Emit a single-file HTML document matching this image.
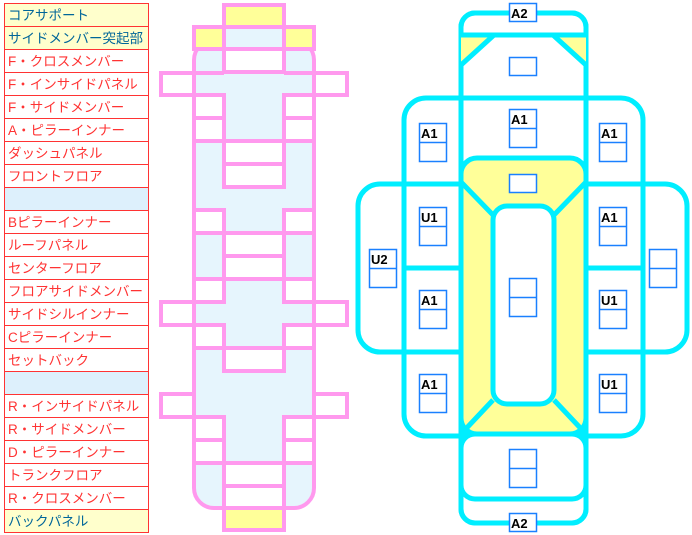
<!DOCTYPE html>
<html><head><meta charset="utf-8"><style>
html,body{margin:0;padding:0;background:#fff;width:692px;height:535px;overflow:hidden}
text{font-family:"Liberation Sans","Noto Sans CJK JP",sans-serif}
</style></head><body>
<svg width="692" height="535" viewBox="0 0 692 535" xmlns="http://www.w3.org/2000/svg">
<g font-size="13.5">
<rect x="4.5" y="3.5" width="144" height="529" fill="#fff" stroke="#ff3333"/>
<rect x="5" y="4" width="143" height="45" fill="#ffffcc"/>
<rect x="5" y="188" width="143" height="22" fill="#ddf0fc"/>
<rect x="5" y="372" width="143" height="22" fill="#ddf0fc"/>
<rect x="5" y="510" width="143" height="22" fill="#ffffcc"/>
<g stroke="#ff3333">
<line x1="4" y1="26.5" x2="149" y2="26.5"/><line x1="4" y1="49.5" x2="149" y2="49.5"/><line x1="4" y1="72.5" x2="149" y2="72.5"/><line x1="4" y1="95.5" x2="149" y2="95.5"/><line x1="4" y1="118.5" x2="149" y2="118.5"/><line x1="4" y1="141.5" x2="149" y2="141.5"/><line x1="4" y1="164.5" x2="149" y2="164.5"/><line x1="4" y1="187.5" x2="149" y2="187.5"/><line x1="4" y1="210.5" x2="149" y2="210.5"/><line x1="4" y1="233.5" x2="149" y2="233.5"/><line x1="4" y1="256.5" x2="149" y2="256.5"/><line x1="4" y1="279.5" x2="149" y2="279.5"/><line x1="4" y1="302.5" x2="149" y2="302.5"/><line x1="4" y1="325.5" x2="149" y2="325.5"/><line x1="4" y1="348.5" x2="149" y2="348.5"/><line x1="4" y1="371.5" x2="149" y2="371.5"/><line x1="4" y1="394.5" x2="149" y2="394.5"/><line x1="4" y1="417.5" x2="149" y2="417.5"/><line x1="4" y1="440.5" x2="149" y2="440.5"/><line x1="4" y1="463.5" x2="149" y2="463.5"/><line x1="4" y1="486.5" x2="149" y2="486.5"/><line x1="4" y1="509.5" x2="149" y2="509.5"/>
</g>
<g fill="#006699">
<text x="8" y="20">コアサポート</text>
<text x="8" y="43">サイドメンバー突起部</text>
<text x="8" y="526">バックパネル</text>
</g>
<g fill="#ff3333">
<text x="8" y="66">F・クロスメンバー</text>
<text x="8" y="89">F・インサイドパネル</text>
<text x="8" y="112">F・サイドメンバー</text>
<text x="8" y="135">A・ピラーインナー</text>
<text x="8" y="158">ダッシュパネル</text>
<text x="8" y="181">フロントフロア</text>
<text x="8" y="227">Bピラーインナー</text>
<text x="8" y="250">ルーフパネル</text>
<text x="8" y="273">センターフロア</text>
<text x="8" y="296">フロアサイドメンバー</text>
<text x="8" y="319">サイドシルインナー</text>
<text x="8" y="342">Cピラーインナー</text>
<text x="8" y="365">セットバック</text>
<text x="8" y="411">R・インサイドパネル</text>
<text x="8" y="434">R・サイドメンバー</text>
<text x="8" y="457">D・ピラーインナー</text>
<text x="8" y="480">トランクフロア</text>
<text x="8" y="503">R・クロスメンバー</text>
</g>
</g>
<g stroke="#ff99ee" stroke-width="4">
<rect x="194" y="40" width="120" height="468" rx="20" fill="#e6f5fd"/>
<rect x="194" y="27" width="120" height="22" fill="#ffff99"/>
<rect x="224" y="27" width="60" height="22" fill="#e6f5fd"/>
<rect x="224" y="5" width="60" height="22" fill="#ffff99"/>
<rect x="224" y="508" width="60" height="22" fill="#ffff99"/>
<g fill="#fff">
<rect x="224" y="49" width="60" height="23"/>
<rect x="161" y="73" width="33" height="22"/><rect x="314" y="73" width="33" height="22"/>
<line x1="194" y1="73" x2="224" y2="73"/><line x1="284" y1="73" x2="314" y2="73"/><line x1="194" y1="95" x2="224" y2="95"/><line x1="284" y1="95" x2="314" y2="95"/>
<rect x="194" y="95" width="30" height="23"/><rect x="284" y="95" width="30" height="23"/>
<rect x="194" y="118" width="30" height="23"/><rect x="284" y="118" width="30" height="23"/>
<line x1="194" y1="141" x2="314" y2="141"/>
<rect x="224" y="141" width="60" height="23"/><rect x="224" y="164" width="60" height="23"/>
<rect x="194" y="210" width="30" height="23"/><rect x="284" y="210" width="30" height="23"/>
<line x1="194" y1="233" x2="314" y2="233"/>
<rect x="224" y="233" width="60" height="23"/><rect x="224" y="256" width="60" height="23"/>
<line x1="194" y1="279" x2="314" y2="279"/>
<rect x="194" y="279" width="30" height="23"/><rect x="284" y="279" width="30" height="23"/>
<rect x="161" y="302" width="33" height="23"/><rect x="314" y="302" width="33" height="23"/>
<line x1="194" y1="302" x2="224" y2="302"/><line x1="284" y1="302" x2="314" y2="302"/>
<rect x="194" y="325" width="30" height="23"/><rect x="284" y="325" width="30" height="23"/>
<line x1="194" y1="348" x2="314" y2="348"/>
<rect x="224" y="348" width="60" height="23"/>
<rect x="161" y="394" width="33" height="23"/><rect x="314" y="394" width="33" height="23"/>
<line x1="194" y1="417" x2="224" y2="417"/><line x1="284" y1="417" x2="314" y2="417"/>
<rect x="194" y="417" width="30" height="23"/><rect x="284" y="417" width="30" height="23"/>
<rect x="194" y="440" width="30" height="23"/><rect x="284" y="440" width="30" height="23"/>
<line x1="194" y1="463" x2="314" y2="463"/>
<rect x="224" y="463" width="60" height="23"/><rect x="224" y="486" width="60" height="22"/>
</g>
</g>
<g stroke="#00eeff" stroke-width="5" fill="none">
<rect x="461" y="13" width="125" height="510" rx="14"/>
<rect x="358" y="184" width="329" height="168" rx="22" fill="#fff"/>
<rect x="404" y="98" width="239" height="338" rx="22" fill="#fff"/>
<rect x="461" y="13" width="125" height="510" rx="14" fill="none"/>
<path d="M461 35 H586 V65 L553 35 H494 L461 65 Z" fill="#ffff99" stroke="none"/>
<line x1="461" y1="35" x2="586" y2="35"/>
<line x1="461" y1="65" x2="494" y2="35"/><line x1="586" y1="65" x2="553" y2="35"/>
<rect x="461" y="434" width="125" height="65" rx="14" fill="#fff"/>
<rect x="461" y="158" width="125" height="276" rx="16" fill="#ffff99"/>
<rect x="493" y="206" width="61" height="198" rx="14" fill="#fff"/>
<line x1="461" y1="182" x2="493" y2="215"/><line x1="586" y1="182" x2="554" y2="215"/>
<line x1="461" y1="434" x2="493" y2="400"/><line x1="586" y1="434" x2="554" y2="400"/>
<line x1="461" y1="434" x2="586" y2="434"/>
<line x1="404" y1="184" x2="461" y2="184"/><line x1="586" y1="184" x2="643" y2="184"/>
<line x1="404" y1="268" x2="461" y2="268"/><line x1="586" y1="268" x2="643" y2="268"/>
<line x1="404" y1="352" x2="461" y2="352"/><line x1="586" y1="352" x2="643" y2="352"/>
<line x1="404" y1="184" x2="404" y2="352"/><line x1="643" y1="184" x2="643" y2="352"/>
</g>
<g stroke="#1a80ff" stroke-width="1.5" fill="#fff">
<rect x="509.5" y="3.5" width="27" height="18"/>
<rect x="509.5" y="513.5" width="27" height="18"/>
<rect x="509.5" y="57.5" width="27" height="18"/>
<rect x="509.5" y="174.5" width="27" height="18"/>
<rect x="509.5" y="109.5" width="27" height="38"/><line x1="509" y1="128.5" x2="537" y2="128.5"/>
<rect x="509.5" y="278.5" width="27" height="38"/><line x1="509" y1="297.5" x2="537" y2="297.5"/>
<rect x="509.5" y="449.5" width="27" height="38"/><line x1="509" y1="468.5" x2="537" y2="468.5"/>
<rect x="419.5" y="123.5" width="27" height="38"/><line x1="419" y1="142.5" x2="447" y2="142.5"/>
<rect x="419.5" y="207.5" width="27" height="38"/><line x1="419" y1="226.5" x2="447" y2="226.5"/>
<rect x="419.5" y="290.5" width="27" height="38"/><line x1="419" y1="309.5" x2="447" y2="309.5"/>
<rect x="419.5" y="374.5" width="27" height="38"/><line x1="419" y1="393.5" x2="447" y2="393.5"/>
<rect x="599.5" y="123.5" width="27" height="38"/><line x1="599" y1="142.5" x2="627" y2="142.5"/>
<rect x="599.5" y="207.5" width="27" height="38"/><line x1="599" y1="226.5" x2="627" y2="226.5"/>
<rect x="599.5" y="290.5" width="27" height="38"/><line x1="599" y1="309.5" x2="627" y2="309.5"/>
<rect x="599.5" y="374.5" width="27" height="38"/><line x1="599" y1="393.5" x2="627" y2="393.5"/>
<rect x="369.5" y="249.5" width="27" height="38"/><line x1="369" y1="268.5" x2="397" y2="268.5"/>
<rect x="649.5" y="249.5" width="27" height="38"/><line x1="649" y1="268.5" x2="677" y2="268.5"/>
</g>
<g font-size="13" font-weight="bold" fill="#000">
<text x="511" y="18">A2</text><text x="511" y="528">A2</text>
<text x="511" y="124">A1</text>
<text x="421" y="138">A1</text><text x="421" y="222">U1</text><text x="421" y="305">A1</text><text x="421" y="389">A1</text>
<text x="601" y="138">A1</text><text x="601" y="222">A1</text><text x="601" y="305">U1</text><text x="601" y="389">U1</text>
<text x="371" y="264">U2</text>
</g>
</svg>
</body></html>
